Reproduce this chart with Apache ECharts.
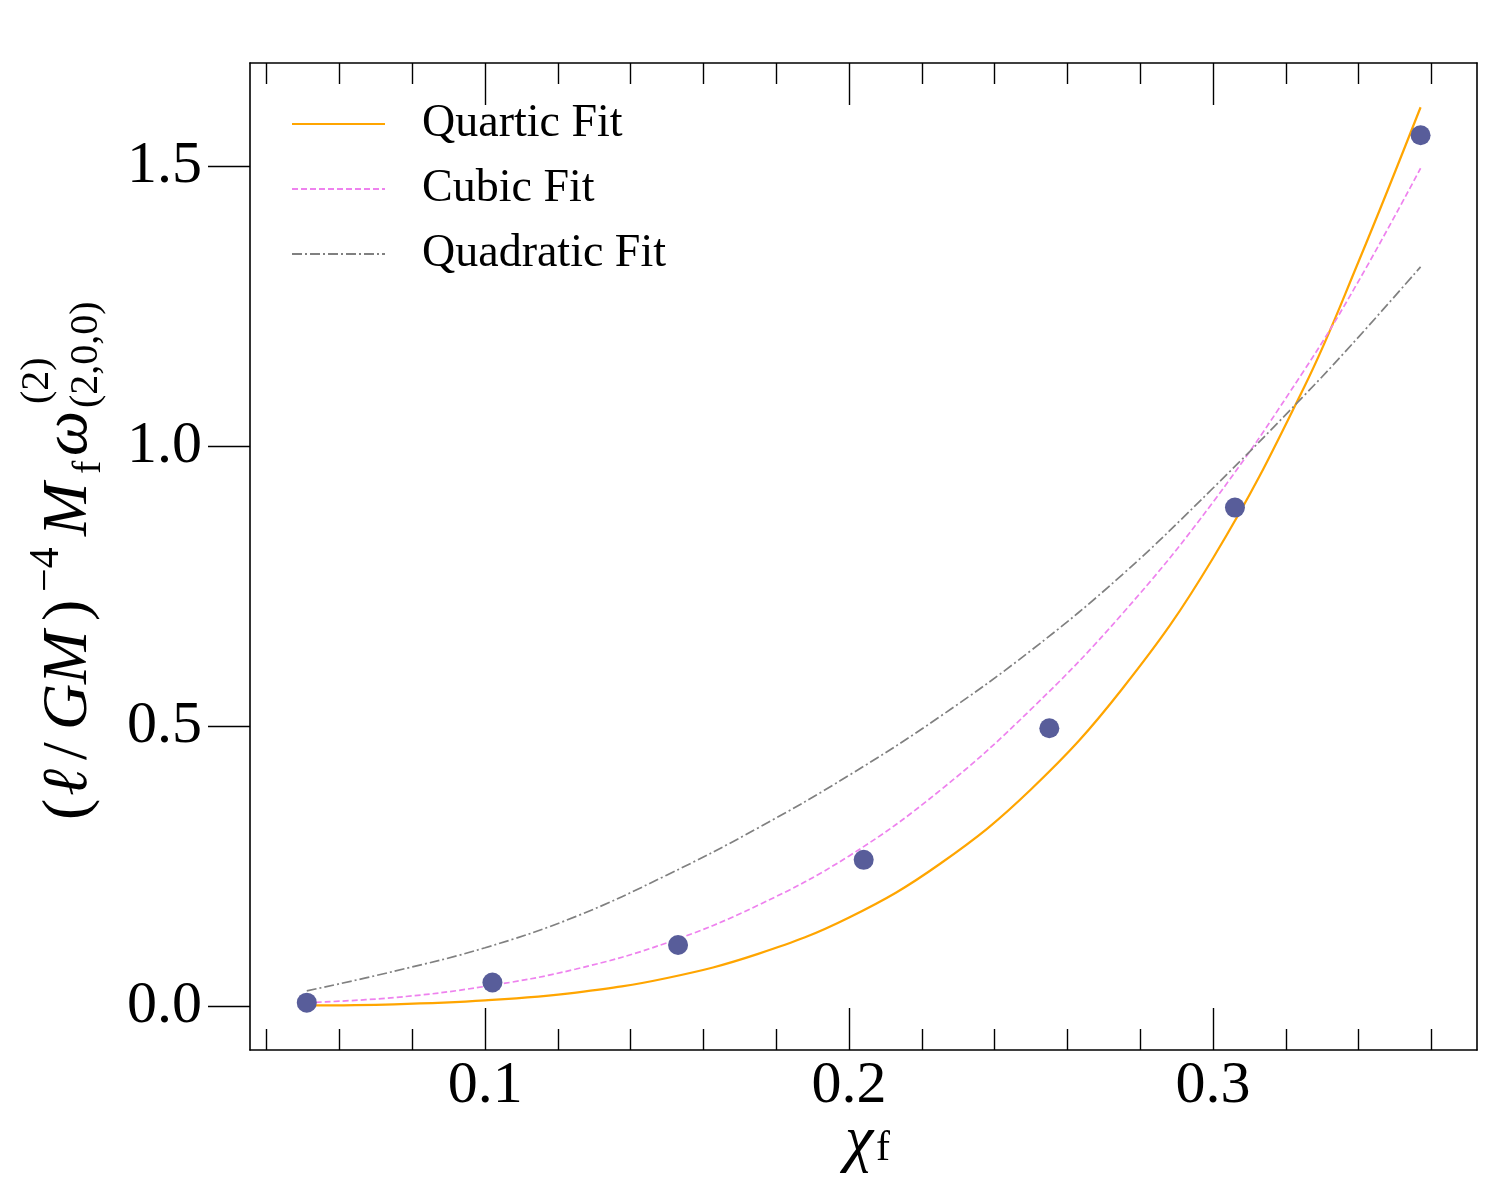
<!DOCTYPE html>
<html>
<head>
    <meta charset="utf-8">
    <title>QNM fits</title>
    <script src="https://cdn.jsdelivr.net/npm/echarts@6/dist/echarts.min.js"></script>
</head>
<body style="margin:0;background:#fff;">
    <div id="main" style="width:1500px;height:1200px;"></div>
    <script type="text/javascript">
        // measured points
        var chiData = [0.051, 0.102, 0.153, 0.204, 0.255, 0.306, 0.357];
        var omegaData = [0.006, 0.042, 0.109, 0.261, 0.496, 0.890, 1.555];

        // fit curves
        var fitChi = [0.051, 0.075, 0.1, 0.125, 0.15, 0.175, 0.2, 0.225, 0.25, 0.275, 0.3, 0.325, 0.34, 0.357];
        var quarticFit = [0.001, 0.003, 0.010, 0.024, 0.050, 0.093, 0.158, 0.254, 0.387, 0.566, 0.800, 1.105, 1.330, 1.605];
        var cubicFit = [0.006, 0.015, 0.035, 0.066, 0.113, 0.180, 0.268, 0.385, 0.530, 0.700, 0.900, 1.135, 1.295, 1.496];
        var quadraticFit = [0.027, 0.062, 0.104, 0.160, 0.234, 0.318, 0.412, 0.517, 0.635, 0.770, 0.925, 1.090, 1.195, 1.320];

        // ticks
        var xMajor = [0.1, 0.2, 0.3];
        var xMinor = [0.04, 0.06, 0.08, 0.12, 0.14, 0.16, 0.18, 0.22, 0.24, 0.26, 0.28, 0.32, 0.34, 0.36];
        var yMajor = [0.0, 0.5, 1.0, 1.5];

        var X_MIN = 0.0354, X_MAX = 0.3725;
        var Y_MIN = -0.0786, Y_MAX = 1.684;

        var serif = '"Liberation Serif", "DejaVu Serif", serif';

        function pairs(xs, ys) {
            return xs.map(function (x, i) { return [x, ys[i]]; });
        }

        function xAxisOf(pos, vals, len, withLine, withLabels) {
            return {
                type: 'value', position: pos, min: X_MIN, max: X_MAX,
                axisLine: { show: withLine, onZero: false, lineStyle: { color: '#000', width: 1.6 } },
                axisTick: { show: true, inside: true, length: len, customValues: vals,
                            lineStyle: { color: '#000', width: 1.4 } },
                axisLabel: withLabels ? {
                    show: true, customValues: vals, margin: 6,
                    fontFamily: serif, fontSize: 60, color: '#000',
                    formatter: function (v) { return v.toFixed(1); }
                } : { show: false },
                splitLine: { show: false }
            };
        }

        // one piece of the rotated y title
        function piece(text, u, v, size, italic) {
            return {
                type: 'text', x: u, y: v,
                style: { text: text, font: (italic ? 'italic ' : '') + size + 'px ' + serif,
                         fill: '#000', verticalAlign: 'middle' }
            };
        }

        var myChart = echarts.init(document.getElementById('main'));

        var option = {
            backgroundColor: '#fff',
            animation: false,
            grid: { left: 250, top: 63, width: 1227, height: 987, containLabel: false },
            xAxis: [
                xAxisOf('bottom', xMajor, 42, true, true),
                xAxisOf('bottom', xMinor, 21, false, false),
                xAxisOf('top', xMajor, 42, true, false),
                xAxisOf('top', xMinor, 21, false, false)
            ],
            yAxis: [
                {
                    type: 'value', position: 'left', min: Y_MIN, max: Y_MAX,
                    axisLine: { show: true, onZero: false, lineStyle: { color: '#000', width: 1.6 } },
                    axisTick: { show: true, inside: false, length: 42, customValues: yMajor,
                                lineStyle: { color: '#000', width: 1.4 } },
                    axisLabel: {
                        show: true, customValues: yMajor, margin: 48,
                        fontFamily: serif, fontSize: 60, color: '#000',
                        formatter: function (v) { return v.toFixed(1); }
                    },
                    splitLine: { show: false }
                },
                {
                    type: 'value', position: 'right', min: Y_MIN, max: Y_MAX,
                    axisLine: { show: true, onZero: false, lineStyle: { color: '#000', width: 1.6 } },
                    axisTick: { show: false }, axisLabel: { show: false }, splitLine: { show: false }
                }
            ],
            legend: {
                data: ['Quartic Fit', 'Cubic Fit', 'Quadratic Fit'],
                orient: 'vertical', left: 291, top: 101, padding: 0,
                itemWidth: 93, itemHeight: 14, itemGap: 19,
                itemStyle: { opacity: 0 },
                textStyle: { fontFamily: serif, fontSize: 46, lineHeight: 44, color: '#000',
                             padding: [0, 0, 0, 32] }
            },
            series: [
                {
                    name: 'Quartic Fit', type: 'line', data: pairs(fitChi, quarticFit),
                    smooth: 0.4, symbol: 'none', z: 3,
                    lineStyle: { color: '#ffa500', width: 2.2 }, itemStyle: { color: '#ffa500' }
                },
                {
                    name: 'Cubic Fit', type: 'line', data: pairs(fitChi, cubicFit),
                    smooth: 0.4, symbol: 'none', z: 3,
                    lineStyle: { color: '#ee82ee', width: 1.7, type: [6, 3] }, itemStyle: { color: '#ee82ee' }
                },
                {
                    name: 'Quadratic Fit', type: 'line', data: pairs(fitChi, quadraticFit),
                    smooth: 0.4, symbol: 'none', z: 3,
                    lineStyle: { color: '#808080', width: 1.7, type: [10, 3, 2, 3] }, itemStyle: { color: '#808080' }
                },
                {
                    name: 'Data', type: 'scatter', data: pairs(chiData, omegaData),
                    symbol: 'circle', symbolSize: 20, z: 4,
                    itemStyle: { color: '#585d9a', opacity: 1 }
                }
            ],
            graphic: [
                // x axis title: chi_f
                { type: 'text', left: 845, top: 1110, style: { text: 'χ', font: 'italic 64px ' + serif, fill: '#000' } },
                { type: 'text', left: 876, top: 1128, style: { text: 'f', font: '42px ' + serif, fill: '#000' } },
                // y axis title, built bottom-to-top
                {
                    type: 'group', x: 0, y: 820, rotation: Math.PI / 2,
                    children: [
                        piece('(', 0, 69, 64, false),
                        piece('ℓ', 24, 69, 64, true),
                        piece('/', 60, 69, 64, false),
                        piece('G', 90, 69, 64, true),
                        piece('M', 136, 69, 64, true),
                        piece(')', 199, 69, 64, false),
                        piece('−4', 228, 47, 42, false),
                        piece('M', 284, 69, 64, true),
                        piece('f', 346, 89, 40, false),
                        piece('ω', 364, 69, 64, true),
                        piece('(2)', 416, 37, 40, false),
                        piece('(2,0,0)', 412, 86, 40, false)
                    ]
                }
            ]
        };

        myChart.setOption(option);
    </script>
</body>
</html>
